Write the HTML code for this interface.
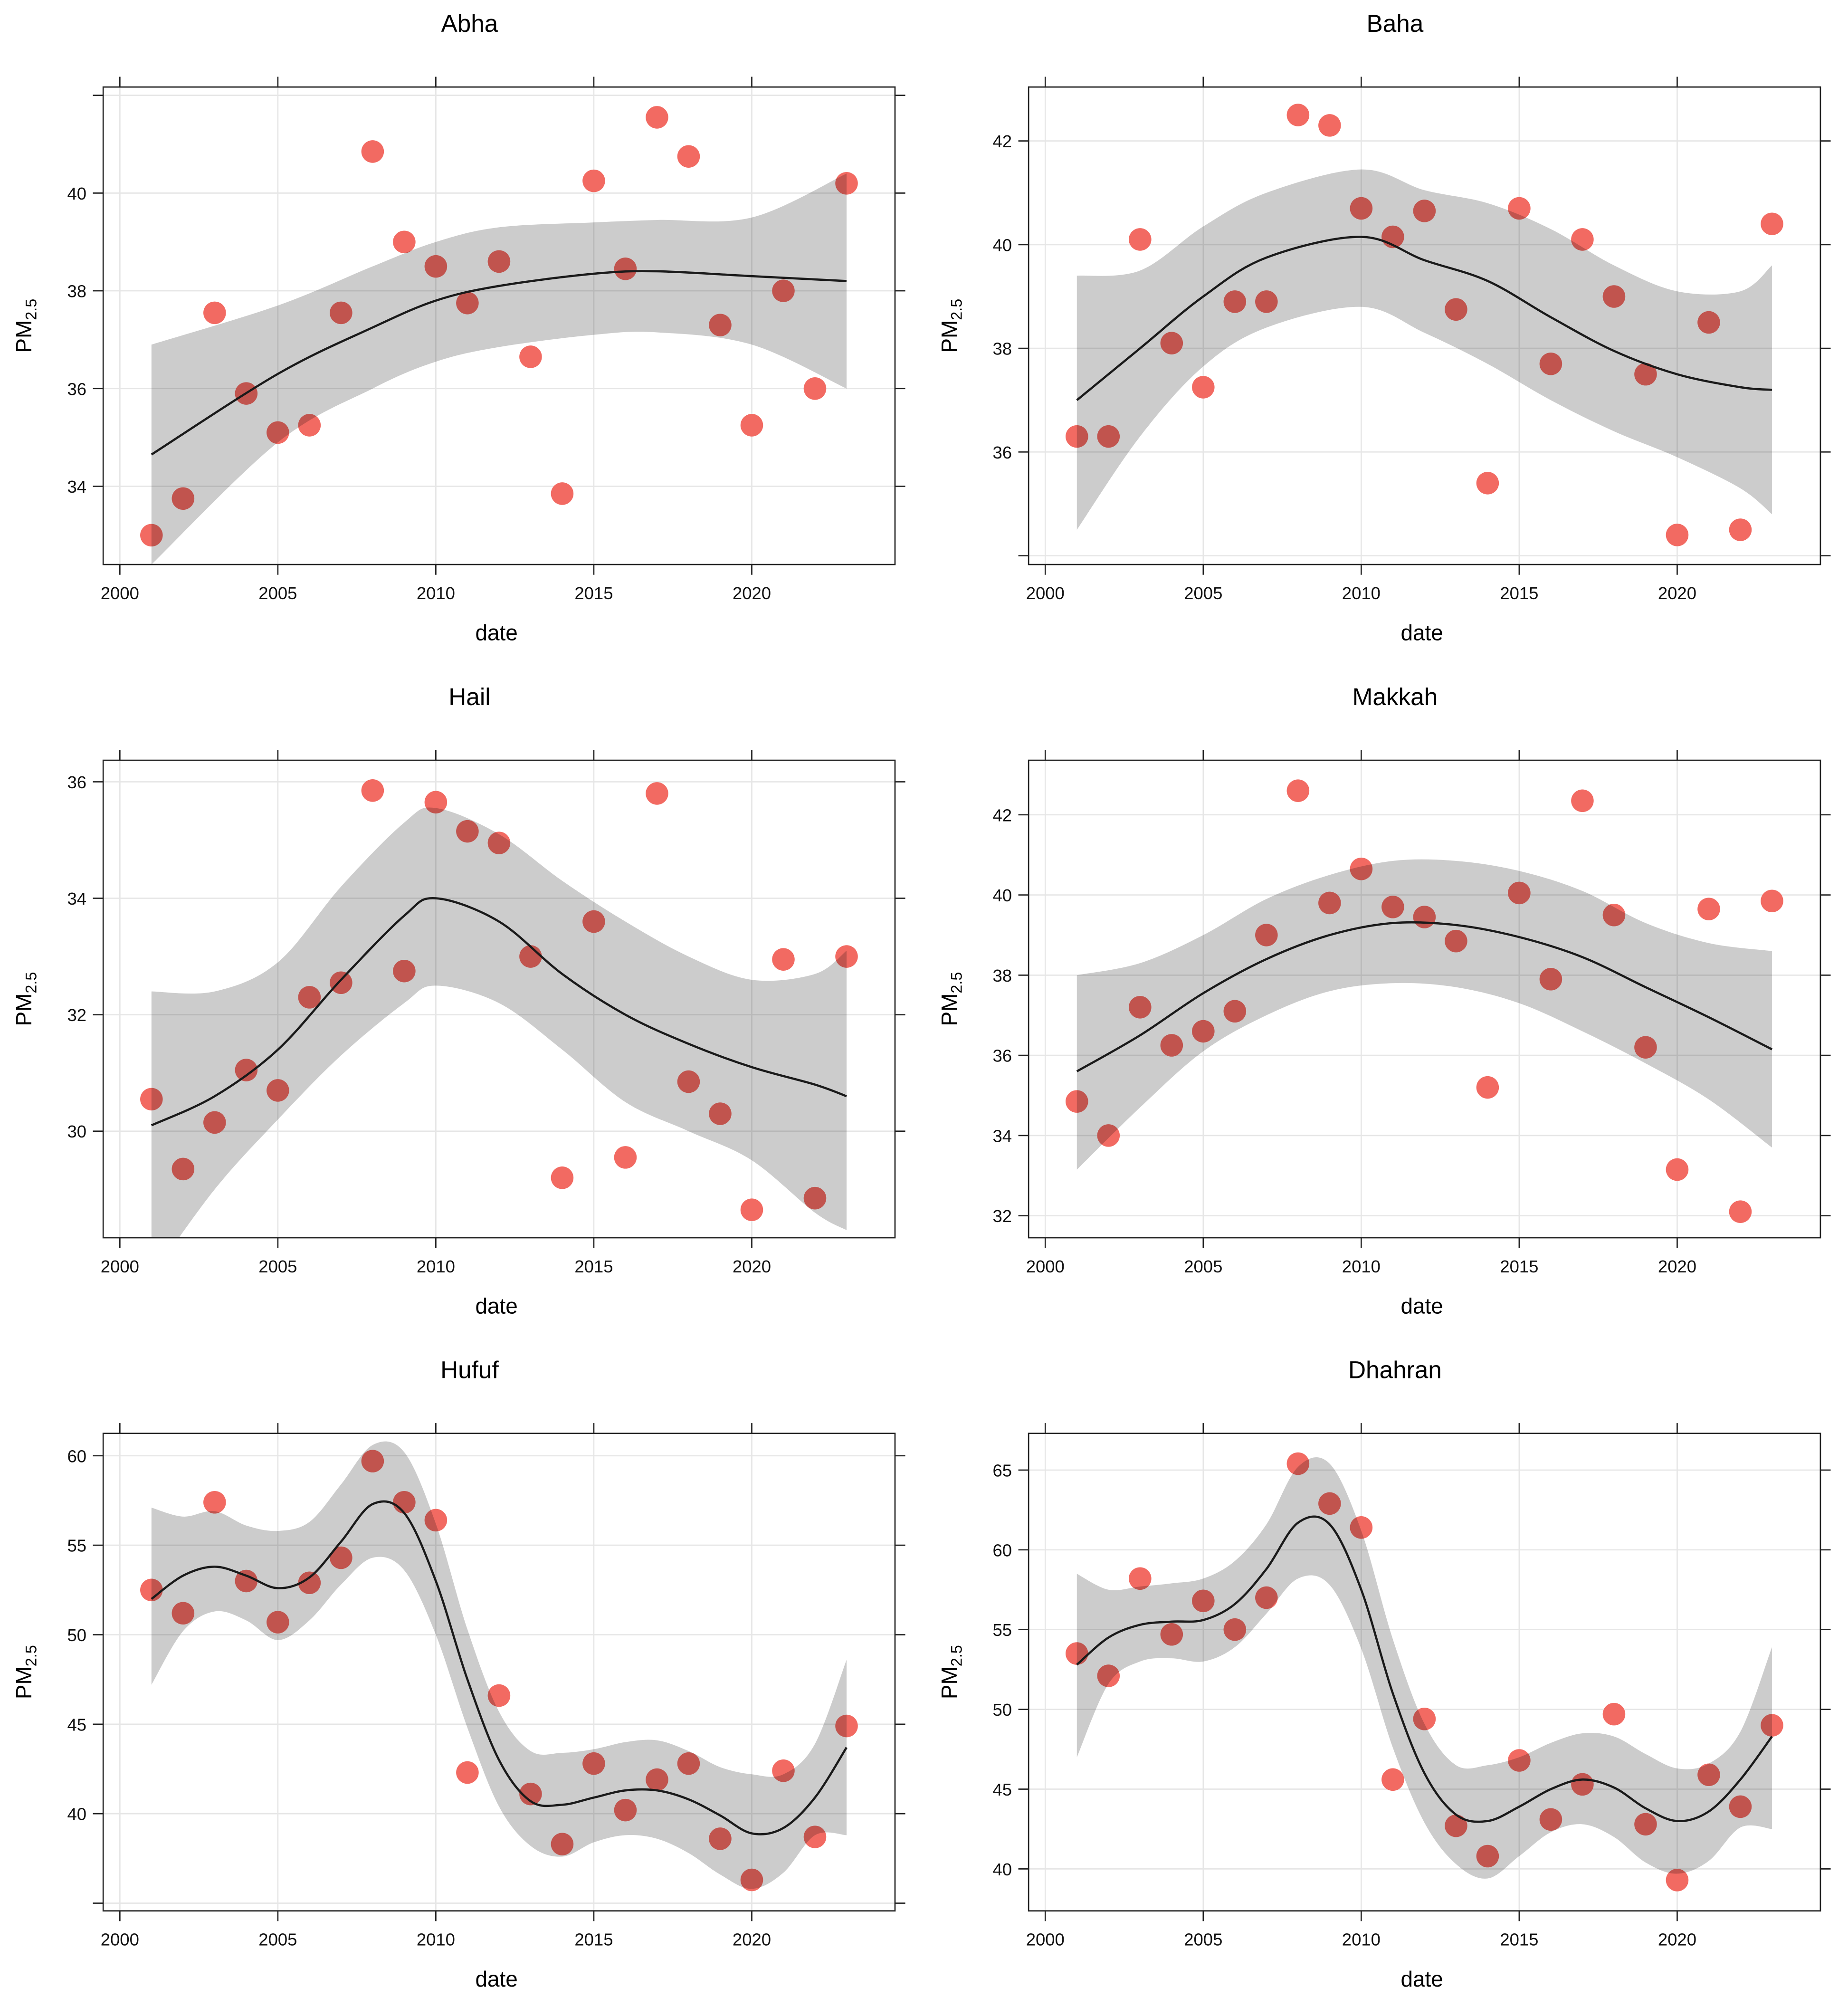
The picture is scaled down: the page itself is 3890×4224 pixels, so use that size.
<!DOCTYPE html>
<html><head><meta charset="utf-8"><style>
html,body{margin:0;padding:0;background:#fff;}
svg{display:block;font-family:"Liberation Sans",Arial,sans-serif;}
</style></head><body>
<svg id="chart" width="3890" height="4224" viewBox="0 0 1440 1563.6" preserveAspectRatio="none" xmlns="http://www.w3.org/2000/svg"></svg>
<script>
const years = [2001,2002,2003,2004,2005,2006,2007,2008,2009,2010,2011,2012,2013,2014,2015,2016,2017,2018,2019,2020,2021,2022,2023];
const xTicks = [2000,2005,2010,2015,2020];

const abhaVals = [33.0,33.75,37.55,35.9,35.1,35.25,37.55,40.85,39.0,38.5,37.75,38.6,36.65,33.85,40.25,38.45,41.55,40.75,37.3,35.25,38.0,36.0,40.2];
const abhaFitYears = [2001,2005,2008,2010,2012,2015,2017,2020,2023];
const abhaFit = [34.65,36.3,37.25,37.8,38.1,38.35,38.4,38.3,38.2];
const abhaLo = [32.4,34.9,36.0,36.55,36.85,37.1,37.15,36.9,36.0];
const abhaHi = [36.9,37.7,38.5,39.0,39.3,39.4,39.45,39.5,40.4];
const abhaTicks = [34,36,38,40,42];

const bahaVals = [36.3,36.3,40.1,38.1,37.25,38.9,38.9,42.5,42.3,40.7,40.15,40.65,38.75,35.4,40.7,37.7,40.1,39.0,37.5,34.4,38.5,34.5,40.4];
const bahaFitYears = [2001,2003,2005,2007,2010,2012,2014,2016,2018,2020,2022,2023];
const bahaFit = [37.0,38.0,39.0,39.75,40.15,39.7,39.3,38.6,37.95,37.5,37.25,37.2];
const bahaLo = [34.5,36.3,37.65,38.4,38.8,38.3,37.7,37.0,36.4,35.9,35.3,34.8];
const bahaHi = [39.4,39.5,40.35,41.0,41.45,41.05,40.8,40.3,39.6,39.1,39.1,39.6];
const bahaTicks = [34,36,38,40,42];

const hailVals = [30.55,29.35,30.15,31.05,30.7,32.3,32.55,35.85,32.75,35.65,35.15,34.95,33.0,29.2,33.6,29.55,35.8,30.85,30.3,28.65,32.95,28.85,33.0];
const hailFitYears = [2001,2003,2005,2007,2009,2010,2012,2014,2016,2018,2020,2022,2023];
const hailFit = [30.1,30.6,31.4,32.6,33.7,34.0,33.6,32.7,32.0,31.5,31.1,30.8,30.6];
const hailLo = [27.5,29.0,30.2,31.3,32.2,32.5,32.2,31.4,30.5,30.0,29.5,28.6,28.3];
const hailHi = [32.4,32.4,32.9,34.2,35.3,35.55,35.1,34.3,33.6,33.0,32.6,32.7,33.1];
const hailTicks = [28,30,32,34,36];

const makkahVals = [34.85,34.0,37.2,36.25,36.6,37.1,39.0,42.6,39.8,40.65,39.7,39.45,38.85,35.2,40.05,37.9,42.35,39.5,36.2,33.15,39.65,32.1,39.85];
const makkahFitYears = [2001,2003,2005,2007,2009,2011,2013,2015,2017,2019,2021,2023];
const makkahFit = [35.6,36.5,37.55,38.4,39.0,39.3,39.25,38.95,38.45,37.7,36.95,36.15];
const makkahLo = [33.15,34.7,36.1,37.0,37.6,37.8,37.7,37.3,36.6,35.8,34.9,33.7];
const makkahHi = [38.0,38.3,39.0,39.9,40.5,40.85,40.85,40.6,40.1,39.3,38.8,38.6];
const makkahTicks = [32,34,36,38,40,42];

const hufufVals = [52.5,51.2,57.4,53.0,50.7,52.9,54.3,59.7,57.4,56.4,42.3,46.6,41.1,38.3,42.8,40.2,41.9,42.8,38.6,36.3,42.4,38.7,44.9];
const hufufFit = [52.0,53.3,53.8,53.3,52.6,53.2,55.2,57.3,56.8,53.0,47.5,43.0,40.7,40.5,40.9,41.3,41.3,40.8,39.9,38.9,39.2,40.9,43.7];
const hufufLo = [47.2,50.2,51.3,50.8,49.7,50.8,52.8,54.3,53.6,50.0,44.8,40.4,38.2,37.6,38.4,38.8,38.6,37.8,36.6,35.8,36.7,38.8,38.8];
const hufufHi = [57.1,56.6,56.9,56.1,55.8,56.3,58.4,60.6,60.2,56.2,50.3,45.7,43.5,43.4,43.6,44.0,44.1,43.5,42.6,42.2,42.2,43.9,48.6];
const hufufTicks = [35,40,45,50,55,60];

const dhahranVals = [53.5,52.1,58.2,54.7,56.8,55.0,57.0,65.4,62.9,61.4,45.6,49.4,42.7,40.8,46.8,43.1,45.3,49.7,42.8,39.3,45.9,43.9,49.0];
const dhahranFit = [52.8,54.5,55.3,55.5,55.6,56.6,58.8,61.7,61.6,57.5,51.0,46.0,43.4,43.0,43.9,45.0,45.6,45.1,43.8,43.0,43.6,45.6,48.3];
const dhahranLo = [47.0,51.6,53.0,53.2,53.0,53.9,56.0,58.2,57.8,53.8,47.6,42.9,40.3,39.4,40.8,42.3,42.8,42.0,40.4,39.7,40.5,42.6,42.5];
const dhahranHi = [58.5,57.5,57.7,57.9,58.2,59.3,61.6,65.2,65.4,61.2,54.4,49.1,46.5,46.5,47.0,47.9,48.5,48.3,47.2,46.3,46.6,48.6,53.9];
const dhahranTicks = [40,45,50,55,60,65];

const panels = [
 {name:'abha',title:'Abha',bx:80.4,by:67.8,ymin:32.40,ymax:42.17,vals:abhaVals,fy:abhaFitYears,fit:abhaFit,lo:abhaLo,hi:abhaHi,ticks:abhaTicks},
 {name:'baha',title:'Baha',bx:801.5,by:67.8,ymin:33.83,ymax:43.04,vals:bahaVals,fy:bahaFitYears,fit:bahaFit,lo:bahaLo,hi:bahaHi,ticks:bahaTicks},
 {name:'hail',title:'Hail',bx:80.4,by:592.3,ymin:28.17,ymax:36.37,vals:hailVals,fy:hailFitYears,fit:hailFit,lo:hailLo,hi:hailHi,ticks:hailTicks},
 {name:'makkah',title:'Makkah',bx:801.5,by:592.3,ymin:31.45,ymax:43.36,vals:makkahVals,fy:makkahFitYears,fit:makkahFit,lo:makkahLo,hi:makkahHi,ticks:makkahTicks},
 {name:'hufuf',title:'Hufuf',bx:80.4,by:1116.7,ymin:34.57,ymax:61.25,vals:hufufVals,fy:years,fit:hufufFit,lo:hufufLo,hi:hufufHi,ticks:hufufTicks},
 {name:'dhahran',title:'Dhahran',bx:801.5,by:1116.7,ymin:37.37,ymax:67.30,vals:dhahranVals,fy:years,fit:dhahranFit,lo:dhahranLo,hi:dhahranHi,ticks:dhahranTicks}
];

const NS='http://www.w3.org/2000/svg';
const svg=document.getElementById('chart');
const W=617,H=372;
function mk(tag,attrs,parent){const e=document.createElementNS(NS,tag);for(const k in attrs)e.setAttribute(k,attrs[k]);(parent||svg).appendChild(e);return e;}
function crPath(pts){
  let d='M'+pts[0][0].toFixed(2)+','+pts[0][1].toFixed(2);
  for(let i=0;i<pts.length-1;i++){
    const p0=pts[i-1]||pts[i],p1=pts[i],p2=pts[i+1],p3=pts[i+2]||pts[i+1];
    const c1=[p1[0]+(p2[0]-p0[0])/6,p1[1]+(p2[1]-p0[1])/6];
    const c2=[p2[0]-(p3[0]-p1[0])/6,p2[1]-(p3[1]-p1[1])/6];
    d+=' C'+c1[0].toFixed(2)+','+c1[1].toFixed(2)+' '+c2[0].toFixed(2)+','+c2[1].toFixed(2)+' '+p2[0].toFixed(2)+','+p2[1].toFixed(2);
  }
  return d;
}
function crCont(pts){return crPath(pts).replace(/^M/,'L');}

panels.forEach(p=>{
  const g=mk('g',{});
  
  
  const xs=y=>p.bx+13+(y-2000)*24.62;
  const ys=v=>p.by+H-(v-p.ymin)/(p.ymax-p.ymin)*H;
  const cx=p.bx+W/2;
  const t=mk('text',{x:cx-23,y:p.by-43,'text-anchor':'middle','font-size':19,fill:'#000'},g);
  t.textContent=p.title;
  
  
  const clipId='clip-'+p.name;
  const cp=mk('clipPath',{id:clipId},g);
  mk('rect',{x:p.bx,y:p.by,width:W,height:H},cp);
  const grid=mk('g',{stroke:'#e6e6e6','stroke-width':1,'clip-path':'url(#'+clipId+')'},g);
  
  
  xTicks.forEach(v=>mk('line',{x1:xs(v),x2:xs(v),y1:p.by,y2:p.by+H},grid));
  p.ticks.forEach(v=>mk('line',{x1:p.bx,x2:p.bx+W,y1:ys(v),y2:ys(v)},grid));
  const pg=mk('g',{'clip-path':'url(#'+clipId+')'},g);
  
  
  years.forEach((yr,i)=>{
    const c=mk('circle',{cx:xs(yr),cy:ys(p.vals[i]),r:8.8,fill:'#f26a62'},pg);
    
    
  });
  const up=p.fy.map((yr,i)=>[xs(yr),ys(p.hi[i])]);
  const dn=p.fy.map((yr,i)=>[xs(yr),ys(p.lo[i])]).reverse();
  const band=mk('path',{d:crPath(up)+' '+crCont(dn)+' Z',fill:'rgba(0,0,0,0.2)','clip-path':'url(#'+clipId+')'},g);
  
  
  const fl=mk('path',{d:crPath(p.fy.map((yr,i)=>[xs(yr),ys(p.fit[i])])),fill:'none',stroke:'#1a1a1a','stroke-width':1.7,'clip-path':'url(#'+clipId+')'},g);
  
  
  const box=mk('rect',{x:p.bx,y:p.by,width:W,height:H,fill:'none',stroke:'#222','stroke-width':1},g);
  
  
  const ax=mk('g',{stroke:'#222','stroke-width':1},g);
  
  
  const xl=mk('g',{'font-size':13.5,'text-anchor':'middle',fill:'#111'},g);
  
  
  xTicks.forEach(v=>{
    const x=xs(v);
    mk('line',{x1:x,x2:x,y1:p.by+H,y2:p.by+H+8},ax);
    mk('line',{x1:x,x2:x,y1:p.by,y2:p.by-8},ax);
    const tl=mk('text',{x:x,y:p.by+H+27},xl);tl.textContent=v;
  });
  const yl=mk('g',{'font-size':13.5,'text-anchor':'end',fill:'#111'},g);
  
  
  p.ticks.forEach(v=>{
    const y=ys(v);
    if(y<p.by-0.5||y>p.by+H+0.5)return;
    mk('line',{x1:p.bx,x2:p.bx-8,y1:y,y2:y},ax);
    mk('line',{x1:p.bx+W,x2:p.bx+W+8,y1:y,y2:y},ax);
    if(y-p.by>10&&p.by+H-y>10){const tl=mk('text',{x:p.bx-13,y:y+5},yl);tl.textContent=v;}
  });
  const xt=mk('text',{x:cx-2,y:p.by+H+59,'text-anchor':'middle','font-size':17,fill:'#000'},g);
  xt.textContent='date';
  
  
  const my=p.by+H/2, mx=p.bx-56;
  const yt=mk('text',{x:0,y:0,'text-anchor':'middle','font-size':17,fill:'#000',transform:'translate('+mx+','+my+') rotate(-90)'},g);
  yt.innerHTML='PM<tspan font-size="12" dy="4">2.5</tspan>';
  
  
});
</script>
</body></html>
